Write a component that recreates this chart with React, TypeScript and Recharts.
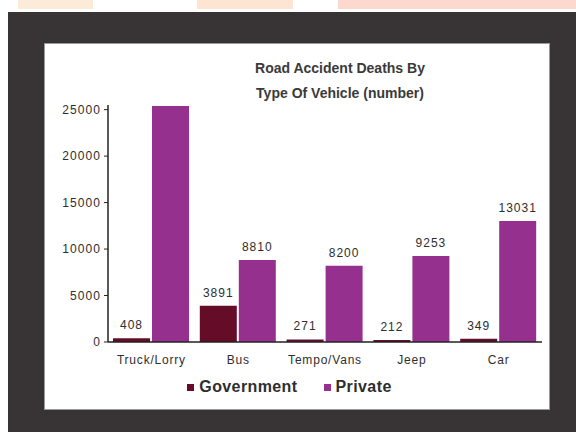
import React from "react";
import {
  BarChart,
  Bar,
  XAxis,
  YAxis,
  Legend,
  LabelList,
} from "recharts";

const categories = ["Truck/Lorry", "Bus", "Tempo/Vans", "Jeep", "Car"];
const government = [408, 3891, 271, 212, 349];
const privateDeaths = [25400, 8810, 8200, 9253, 13031];
// the tallest bar carries no value label in the original
const privateLabels = [null, 8810, 8200, 9253, 13031];
const yTicks = [0, 5000, 10000, 15000, 20000, 25000];
const edgeTicks = [0, 1, 2, 3, 4, 5];

const GOV = "#650d28";
const PRI = "#96308f";
const INK = "#2e2e2e";

const data = categories.map((name, i) => ({
  name,
  government: government[i],
  private: privateDeaths[i],
  privateLabel: privateLabels[i],
}));

function LegendBox() {
  const items = [
    { label: "Government", color: GOV },
    { label: "Private", color: PRI },
  ];
  return (
    <div
      style={{
        height: 20,
        display: "flex",
        justifyContent: "center",
        alignItems: "center",
        gap: 26,
        fontFamily: "'Liberation Sans', Arial, sans-serif",
        fontWeight: "bold",
        fontSize: 16,
        letterSpacing: 0.4,
        color: INK,
        paddingRight: 8,
      }}
    >
      {items.map((it) => (
        <span key={it.label} style={{ display: "flex", alignItems: "center", gap: 5 }}>
          <span style={{ width: 7, height: 7, background: it.color, display: "inline-block" }} />
          {it.label}
        </span>
      ))}
    </div>
  );
}

export default function App() {
  const font = "'Liberation Sans', Arial, sans-serif";
  return (
    <div
      style={{
        position: "absolute",
        left: 0,
        top: 0,
        width: 576,
        height: 432,
        background: "#ffffff",
        overflow: "hidden",
      }}
    >
      <div style={{ position: "absolute", left: 18, top: 0, width: 75, height: 9, background: "#fdebd9" }} />
      <div style={{ position: "absolute", left: 197, top: 0, width: 96, height: 9, background: "#fde4d3" }} />
      <div style={{ position: "absolute", left: 338, top: 0, width: 238, height: 9, background: "#fcd8cf" }} />
      <div style={{ position: "absolute", left: 8, top: 12, width: 568, height: 420, background: "#383334" }} />
      <div
        style={{
          position: "absolute",
          left: 44,
          top: 43,
          width: 504,
          height: 365,
          background: "#ffffff",
          border: "1px solid #9a9a9a",
        }}
      />
      <div
        style={{
          position: "absolute",
          left: 240,
          top: 56,
          width: 200,
          textAlign: "center",
          fontFamily: font,
          fontWeight: "bold",
          fontSize: 14,
          lineHeight: "25px",
          color: "#3a3a3a",
        }}
      >
        Road Accident Deaths By
        <br />
        Type Of Vehicle (number)
      </div>
      <div style={{ position: "absolute", left: 45, top: 44 }}>
        <BarChart
          width={504}
          height={365}
          data={data}
          margin={{ top: 61, right: 7, left: 0, bottom: 12 }}
          barCategoryGap={5}
          barGap={2}
        >
          <XAxis
            xAxisId="a_edge"
            type="number"
            domain={[0, 5]}
            ticks={edgeTicks}
            allowDataOverflow
            height={1}
            tick={false}
            tickSize={5}
            axisLine={{ stroke: "#222", strokeWidth: 1.5 }}
            tickLine={{ stroke: "#222", strokeWidth: 1.5 }}
          />
          <XAxis
            xAxisId="b_cat"
            dataKey="name"
            height={34}
            axisLine={false}
            tickLine={false}
            tickMargin={6}
            tick={{ fill: INK, fontSize: 12, fontFamily: font, letterSpacing: 0.8 }}
          />
          <YAxis
            width={63}
            domain={[0, 25500]}
            ticks={yTicks}
            allowDataOverflow
            tickSize={4}
            tickMargin={3}
            axisLine={{ stroke: "#222", strokeWidth: 1.5 }}
            tickLine={{ stroke: "#222" }}
            tick={{ fill: INK, fontSize: 12, fontFamily: font, letterSpacing: 1.1 }}
          />
          <Legend verticalAlign="bottom" content={() => <LegendBox />} />
          <Bar
            xAxisId="b_cat"
            dataKey="government"
            fill={GOV}
            isAnimationActive={false}
          >
            <LabelList
              dataKey="government"
              position="top"
              offset={9}
              style={{ fill: INK, fontSize: 12, fontFamily: font, letterSpacing: 1 }}
            />
          </Bar>
          <Bar
            xAxisId="b_cat"
            dataKey="private"
            fill={PRI}
            isAnimationActive={false}
          >
            <LabelList
              dataKey="privateLabel"
              position="top"
              offset={9}
              style={{ fill: INK, fontSize: 12, fontFamily: font, letterSpacing: 1 }}
            />
          </Bar>
        </BarChart>
      </div>
    </div>
  );
}
